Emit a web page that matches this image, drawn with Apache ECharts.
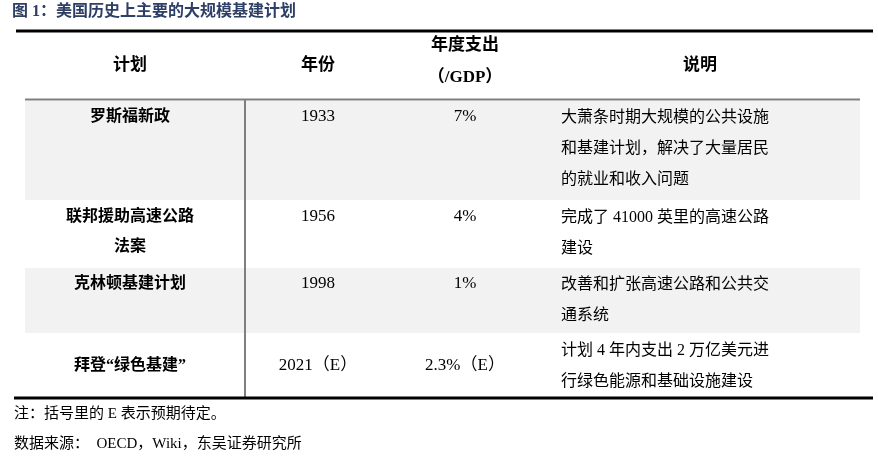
<!DOCTYPE html>
<html>
<head>
<meta charset="utf-8">
<script src="https://cdn.jsdelivr.net/npm/echarts@6/dist/echarts.min.js"></script>
<style>html,body{margin:0;padding:0;background:#fff}#main{width:878px;height:465px}</style>
</head>
<body>
<div id="main"></div>
<script>
// 表格数据
var headers = ['计划', '年份', '年度支出\n（/GDP）', '说明'];
var plans = ['罗斯福新政', '联邦援助高速公路\n法案', '克林顿基建计划', '拜登“绿色基建”'];
var years = ['1933', '1956', '1998', '2021（E）'];
var shares = ['7%', '4%', '1%', '2.3%（E）'];
var notes = [
    '大萧条时期大规模的公共设施\n和基建计划，解决了大量居民\n的就业和收入问题',
    '完成了 41000 英里的高速公路\n建设',
    '改善和扩张高速公路和公共交\n通系统',
    '计划 4 年内支出 2 万亿美元进\n行绿色能源和基础设施建设'
];
var title = '图 1：美国历史上主要的大规模基建计划';
var footnotes = ['注：括号里的 E 表示预期待定。', '数据来源：  OECD，Wiki，东吴证券研究所'];

var FONT = '"Liberation Serif", "Noto Sans CJK SC", serif';
var rowTop = [100, 200, 267, 333, 398];
var colX = [130, 318, 465, 561];

var g = [];
g.push({type: 'text', x: 12, y: 4, style: {text: title, font: 'bold 16px ' + FONT, fill: '#2e3f66'}});
g.push({type: 'line', shape: {x1: 16, y1: 31, x2: 873, y2: 31}, style: {stroke: '#000', lineWidth: 3}});
headers.forEach(function (h, i) {
    g.push({type: 'text', x: i === 3 ? 700 : colX[i], y: i === 2 ? 62 : 66,
        style: {text: h, font: 'bold 17px ' + FONT, fill: '#000', align: 'center', verticalAlign: 'middle', lineHeight: 32}});
});
g.push({type: 'line', shape: {x1: 25, y1: 99.5, x2: 860, y2: 99.5}, style: {stroke: '#7f7f7f', lineWidth: 2}});
for (var r = 0; r < plans.length; r++) {
    var y0 = rowTop[r], y1 = rowTop[r + 1];
    if (r % 2 === 0) {
        g.push({type: 'rect', z: -1, shape: {x: 25, y: y0 + 1, width: 835, height: y1 - y0 - 1}, style: {fill: '#f2f2f2'}});
    }
    var midY = r === 3 ? (y0 + y1) / 2 : y0 + 17;
    g.push({type: 'text', x: colX[0], y: r === 3 ? midY : y0 + 2,
        style: {text: plans[r], font: 'bold 16px ' + FONT, fill: '#000', align: 'center', verticalAlign: r === 3 ? 'middle' : 'top', lineHeight: 30}});
    g.push({type: 'text', x: colX[1], y: midY,
        style: {text: years[r], font: '17px ' + FONT, fill: '#000', align: 'center', verticalAlign: 'middle'}});
    g.push({type: 'text', x: colX[2], y: midY,
        style: {text: shares[r], font: '17px ' + FONT, fill: '#000', align: 'center', verticalAlign: 'middle'}});
    g.push({type: 'text', x: colX[3], y: y0 + 2,
        style: {text: notes[r], font: '16px ' + FONT, fill: '#000', align: 'left', verticalAlign: 'top', lineHeight: 31}});
}
g.push({type: 'line', shape: {x1: 245, y1: 100, x2: 245, y2: 397}, style: {stroke: '#7f7f7f', lineWidth: 2}});
g.push({type: 'line', shape: {x1: 14, y1: 398, x2: 873, y2: 398}, style: {stroke: '#000', lineWidth: 3}});
footnotes.forEach(function (t, i) {
    g.push({type: 'text', x: 14, y: 407 + i * 30, style: {text: t, font: '15px ' + FONT, fill: '#000'}});
});

var myChart = echarts.init(document.getElementById('main'));
myChart.setOption({animation: false, graphic: g});
</script>
</body>
</html>
